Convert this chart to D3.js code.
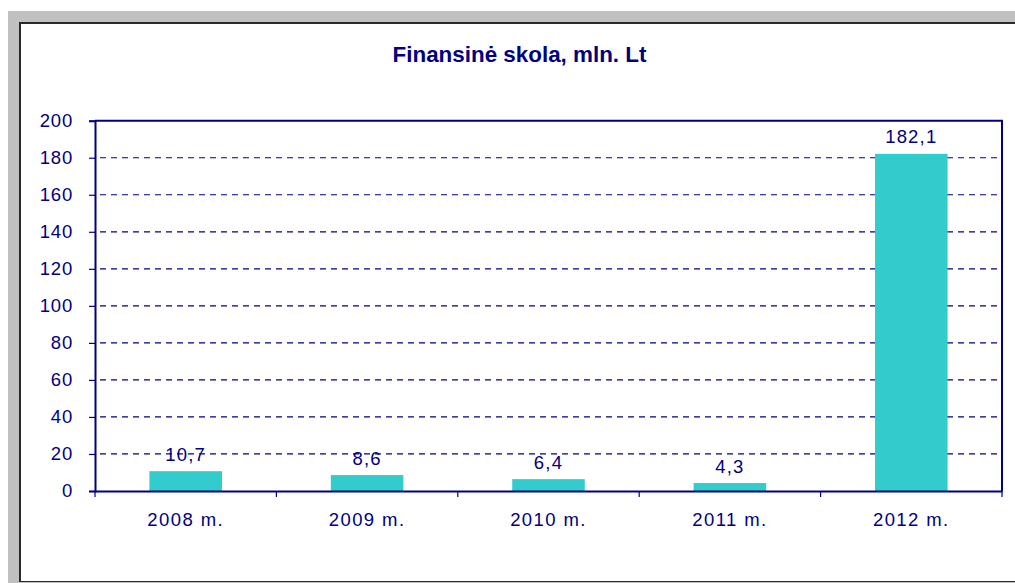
<!DOCTYPE html>
<html>
<head>
<meta charset="utf-8">
<script src="https://cdn.jsdelivr.net/npm/d3@7"></script>
<style>
  html, body { margin: 0; padding: 0; background: #fff; }
  svg { display: block; }
  text { font-family: Arial, "Liberation Sans", sans-serif; fill: #000080; }
</style>
</head>
<body>
<svg id="chart" width="1015" height="583"></svg>
<script>
const title = "Finansinė skola, mln. Lt";
const categories = ["2008 m.", "2009 m.", "2010 m.", "2011 m.", "2012 m."];
const values = [10.7, 8.6, 6.4, 4.3, 182.1];
const yTicks = [0, 20, 40, 60, 80, 100, 120, 140, 160, 180, 200];

const svg = d3.select("#chart");

// outer frame (gray window band + dark border)
svg.append("rect").attr("x", 8).attr("y", 11).attr("width", 1015).attr("height", 580).attr("fill", "#c0c0c0");
svg.append("rect").attr("x", 19).attr("y", 22).attr("width", 1010).attr("height", 560).attr("fill", "#2a2a2a");
svg.append("rect").attr("x", 21).attr("y", 24).attr("width", 1010).attr("height", 557).attr("fill", "#ffffff");

const plot = { left: 95, right: 1002, top: 120.7, bottom: 491 };

const x = d3.scaleBand().domain(categories).range([plot.left, plot.right]).paddingInner(0.6).paddingOuter(0.3);
const xb = d3.scaleBand().domain(categories).range([plot.left, plot.right]);
const y = d3.scaleLinear().domain([0, 200]).range([plot.bottom, plot.top]);

// title
svg.append("text").attr("x", 519.5).attr("y", 62).attr("text-anchor", "middle")
  .attr("font-size", 22.4).attr("font-weight", "bold").text(title);

// gridlines
svg.append("g").selectAll("line").data(yTicks.filter(d => d > 0 && d < 200)).join("line")
  .attr("x1", plot.left).attr("x2", plot.right)
  .attr("y1", d => y(d)).attr("y2", d => y(d))
  .attr("stroke", "#000080").attr("stroke-width", 1.2).attr("stroke-dasharray", "6,5")
  .attr("stroke-dashoffset", -5);

// bars
svg.append("g").selectAll("rect").data(values).join("rect")
  .attr("x", (d, i) => x(categories[i]))
  .attr("width", x.bandwidth())
  .attr("y", d => y(d))
  .attr("height", d => y(0) - y(d))
  .attr("fill", "#33CCCC");

// plot border top/right
svg.append("path")
  .attr("d", `M${plot.left},${plot.top}H${plot.right}V${plot.bottom}`)
  .attr("fill", "none").attr("stroke", "#000080").attr("stroke-width", 2);

// y axis
const yAxis = d3.axisLeft(y).tickValues(yTicks).tickSize(6).tickPadding(16);
const gy = svg.append("g").attr("transform", `translate(${plot.left},0)`).call(yAxis);
gy.select(".domain").attr("stroke", "#000080").attr("stroke-width", 2);
gy.selectAll(".tick line").attr("stroke", "#000080").attr("stroke-width", 1.2);
gy.selectAll(".tick text").attr("font-size", 18.5).attr("fill", "#000080")
  .attr("font-family", "Arial, 'Liberation Sans', sans-serif").attr("letter-spacing", 0.8);

// x axis
const xAxis = d3.axisBottom(xb).tickSize(0).tickPadding(22);
const gx = svg.append("g").attr("transform", `translate(0,${plot.bottom})`).call(xAxis);
gx.select(".domain").attr("stroke", "#000080").attr("stroke-width", 2);
gx.selectAll(".tick text").attr("font-size", 18.5).attr("fill", "#000080")
  .attr("font-family", "Arial, 'Liberation Sans', sans-serif").attr("letter-spacing", 1.4);
// category boundary ticks
const bounds = categories.map(c => xb(c)).concat([plot.right]);
svg.append("g").selectAll("line").data(bounds).join("line")
  .attr("x1", d => d).attr("x2", d => d)
  .attr("y1", plot.bottom).attr("y2", plot.bottom + 6)
  .attr("stroke", "#000080").attr("stroke-width", 1.2);

// value labels
svg.append("g").selectAll("text").data(values).join("text")
  .attr("x", (d, i) => x(categories[i]) + x.bandwidth() / 2)
  .attr("y", d => y(d) - 10.5)
  .attr("text-anchor", "middle")
  .attr("font-size", 18.5).attr("letter-spacing", 1.2)
  .text(d => d3.format(".1f")(d).replace(".", ","));
</script>
</body>
</html>
